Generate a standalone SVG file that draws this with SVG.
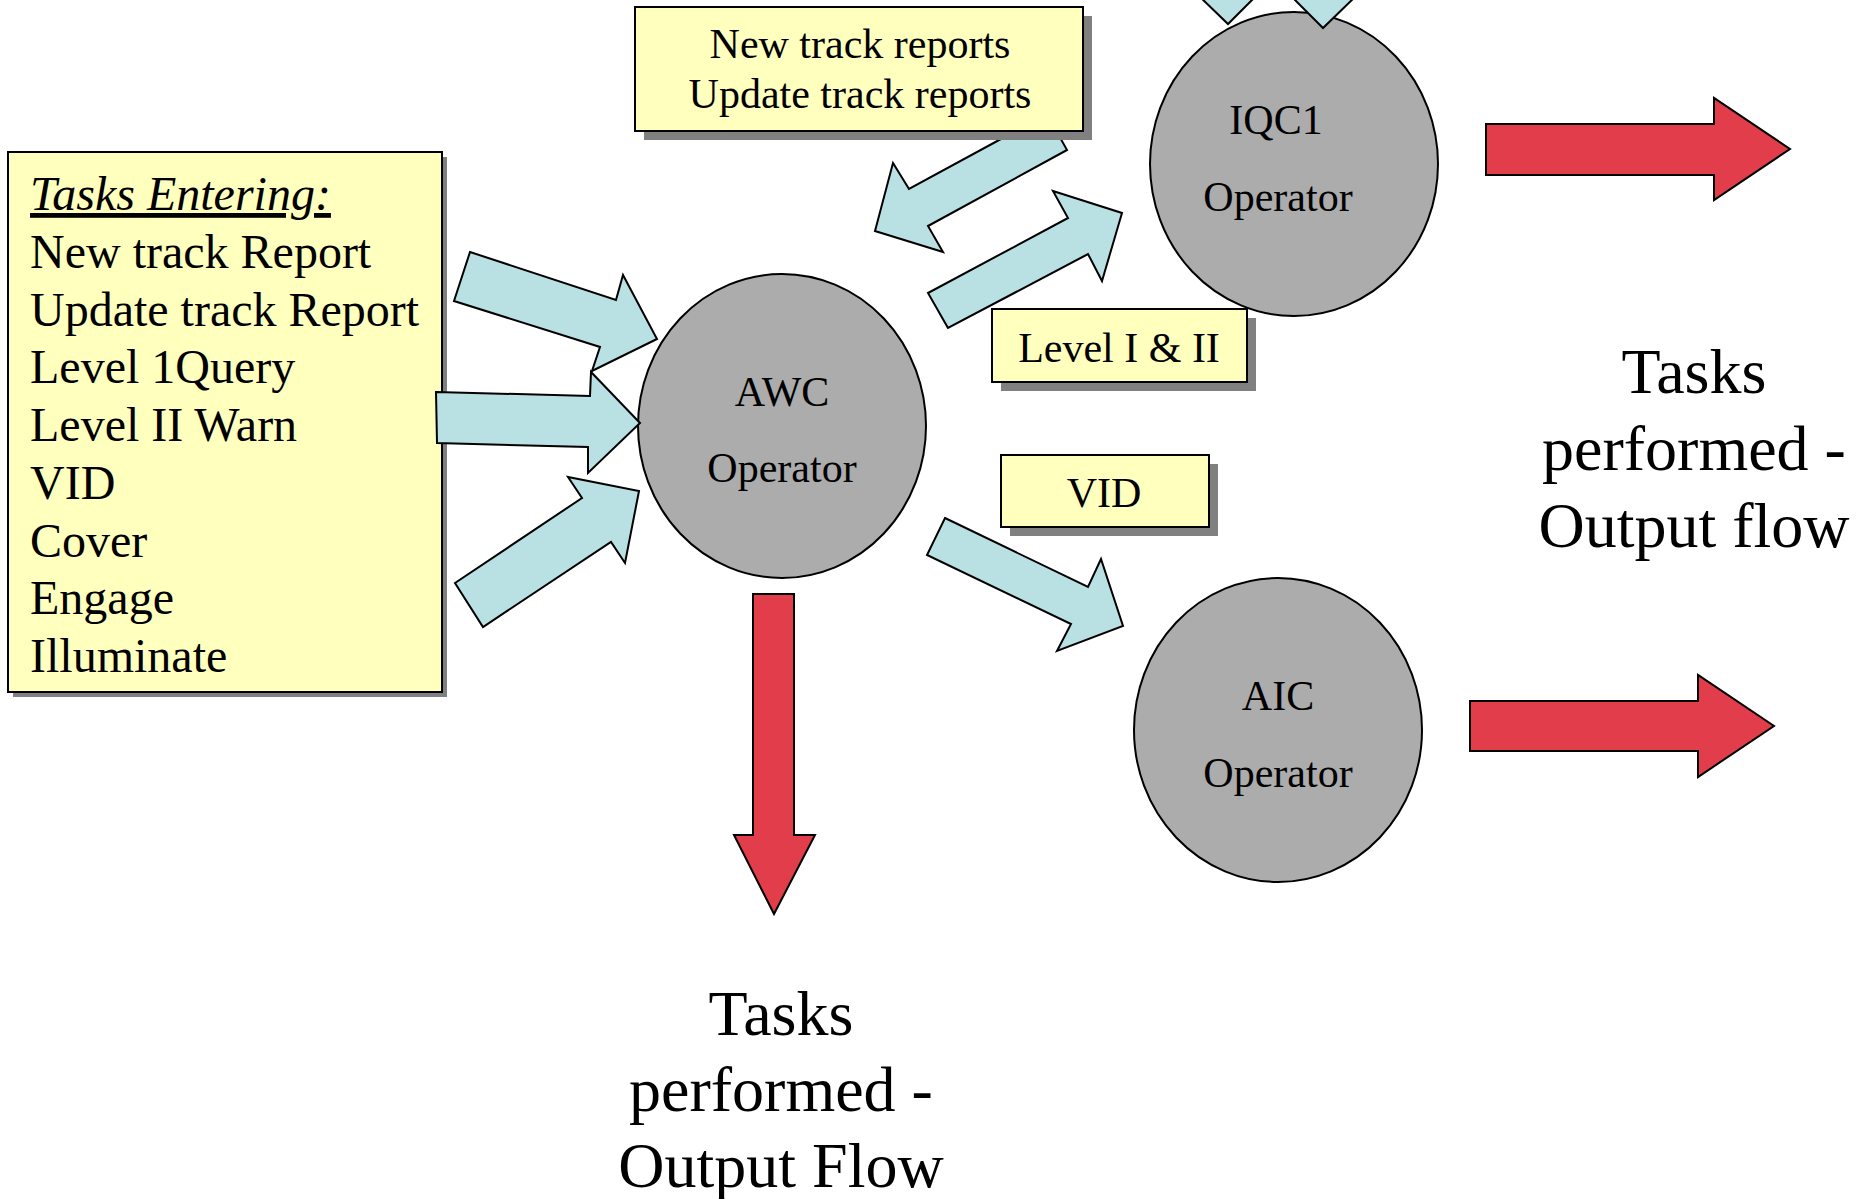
<svg xmlns="http://www.w3.org/2000/svg" width="1862" height="1199" viewBox="0 0 1862 1199">
  <defs>
    <style>
      .op { fill: #acacac; stroke: #000; stroke-width: 2; }
      .flow { fill: #b9e0e3; stroke: #000; stroke-width: 2; stroke-linejoin: miter; }
      .out { fill: #e23d4a; stroke: #000; stroke-width: 2; }
      .note { fill: #ffffbe; stroke: #000; stroke-width: 2; }
      .shadow { fill: #808080; }
      text { font-family: "Liberation Serif", "Times New Roman", serif; fill: #000; }
      .lbl { font-size: 42px; text-anchor: middle; }
      .list { font-size: 48px; }
      .big { font-size: 64px; text-anchor: middle; }
    </style>
  </defs>

  <!-- list of incoming tasks (sits under the arrows) -->
  <g id="tasks-entering">
    <rect class="shadow" x="13" y="157" width="434" height="540"/>
    <rect class="note" x="8" y="152" width="434" height="540"/>
    <text class="list" x="30" y="210" font-style="italic" text-decoration="underline">Tasks Entering:</text>
    <text class="list" x="30" y="268">New track Report</text>
    <text class="list" x="30" y="326">Update track Report</text>
    <text class="list" x="30" y="383">Level 1Query</text>
    <text class="list" x="30" y="441">Level II Warn</text>
    <text class="list" x="30" y="499">VID</text>
    <text class="list" x="30" y="557">Cover</text>
    <text class="list" x="30" y="614">Engage</text>
    <text class="list" x="30" y="672">Illuminate</text>
  </g>

  <!-- operator nodes -->
  <g id="awc">
    <ellipse class="op" cx="782" cy="426" rx="144" ry="152"/>
    <text class="lbl" x="782" y="406">AWC</text>
    <text class="lbl" x="782" y="482">Operator</text>
  </g>
  <g id="iqc1">
    <ellipse class="op" cx="1294" cy="164" rx="144" ry="152"/>
    <text class="lbl" x="1276" y="134">IQC1</text>
    <text class="lbl" x="1278" y="211">Operator</text>
  </g>
  <g id="aic">
    <ellipse class="op" cx="1278" cy="730" rx="144" ry="152"/>
    <text class="lbl" x="1278" y="710">AIC</text>
    <text class="lbl" x="1278" y="787">Operator</text>
  </g>

  <!-- block arrows between nodes -->
  <g id="connectors">
    <!-- incoming tasks into AWC -->
    <polygon class="flow" points="470,252 616,300 623,275 657,339 592,371 600,347 454,301"/>
    <polygon class="flow" points="436,392 590,396 591,372 640,423 588,473 588,447 437,443"/>
    <polygon class="flow" points="455,583 582,498 568,477 639,491 625,563 611,542 483,627"/>
    <!-- track reports back to AWC -->
    <polygon class="flow" points="1047,114 1067,150 928,226 943,252 875,231 893,163 909,189"/>
    <!-- Level I & II to IQC1 -->
    <polygon class="flow" points="948,328 928,293 1068,218 1053,191 1122,213 1102,281 1088,254"/>
    <!-- VID to AIC -->
    <polygon class="flow" points="945,518 1088,587 1101,559 1123,626 1057,651 1071,624 927,555"/>
    <!-- arrowheads entering IQC1 from above -->
    <polygon class="flow" points="1198,-5 1228,24 1257,-5"/>
    <polygon class="flow" points="1290,-5 1323,28 1357,-5"/>

    <!-- output flows -->
    <polygon class="out" points="753,594 794,594 794,835 815,835 774,914 734,835 753,835"/>
    <polygon class="out" points="1486,124 1714,124 1714,98 1790,149 1714,200 1714,175 1486,175"/>
    <polygon class="out" points="1470,701 1698,701 1698,675 1774,726 1698,777 1698,751 1470,751"/>
  </g>

  <!-- label boxes -->
  <g id="track-reports">
    <rect class="shadow" x="644" y="16" width="448" height="124"/>
    <rect class="note" x="635" y="7" width="448" height="124"/>
    <text class="lbl" x="860" y="58">New track reports</text>
    <text class="lbl" x="860" y="108">Update track reports</text>
  </g>
  <g id="level-label">
    <rect class="shadow" x="1001" y="318" width="255" height="73"/>
    <rect class="note" x="992" y="309" width="255" height="73"/>
    <text class="lbl" x="1119" y="362">Level I &amp; II</text>
  </g>
  <g id="vid-label">
    <rect class="shadow" x="1010" y="464" width="208" height="72"/>
    <rect class="note" x="1001" y="455" width="208" height="72"/>
    <text class="lbl" x="1104" y="507">VID</text>
  </g>

  <!-- output captions -->
  <g id="output-right">
    <text class="big" x="1694" y="393">Tasks</text>
    <text class="big" x="1694" y="470">performed -</text>
    <text class="big" x="1694" y="547">Output flow</text>
  </g>
  <g id="output-bottom">
    <text class="big" x="781" y="1035">Tasks</text>
    <text class="big" x="781" y="1111">performed -</text>
    <text class="big" x="781" y="1187">Output Flow</text>
  </g>
</svg>
